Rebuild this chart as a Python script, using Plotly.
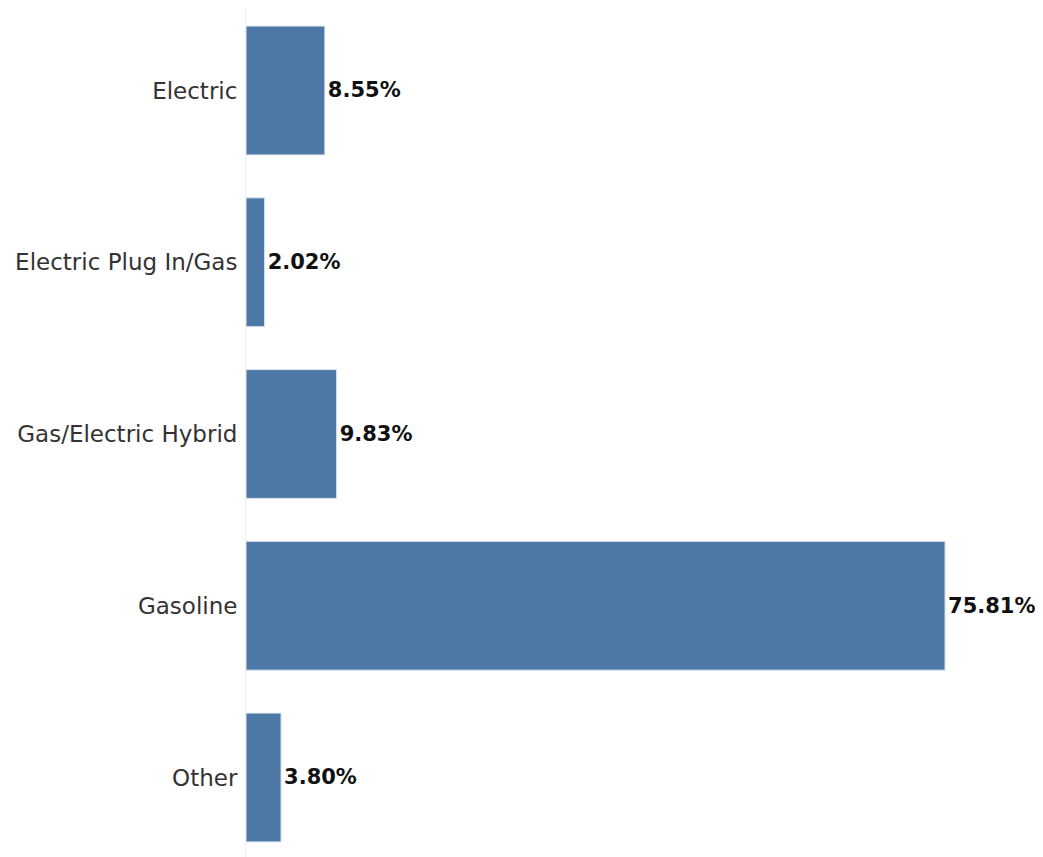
import plotly.graph_objects as go

categories = ["Electric", "Electric Plug In/Gas", "Gas/Electric Hybrid", "Gasoline", "Other"]
shares = [8.55, 2.02, 9.83, 75.81, 3.80]

FONT = "DejaVu Sans, Open Sans, sans-serif"

fig = go.Figure(
    go.Bar(
        x=shares,
        y=categories,
        orientation="h",
        marker=dict(color="#4e79a7", line=dict(color="#dde4ee", width=1)),
        texttemplate="<b>%{x:.2f}%</b>",
        textposition="outside",
        textfont=dict(family=FONT, size=21, color="#111111"),
        cliponaxis=False,
        width=0.75,
    )
)

fig.update_layout(
    width=1035,
    height=849,
    margin=dict(l=238, r=4, t=0, b=0),
    paper_bgcolor="white",
    plot_bgcolor="white",
    showlegend=False,
    font=dict(family=FONT),
)
fig.update_xaxes(range=[0, 86], visible=False, showgrid=False, zeroline=False)
fig.update_yaxes(
    type="category",
    categoryorder="array",
    categoryarray=categories,
    range=[4.4629, -0.4803],
    showgrid=False,
    zeroline=False,
    showline=True,
    linecolor="#efefef",
    linewidth=1,
    ticks="",
    ticklabelstandoff=3,
    tickfont=dict(family=FONT, size=23, color="#333333"),
)

fig.write_html("out.html")
